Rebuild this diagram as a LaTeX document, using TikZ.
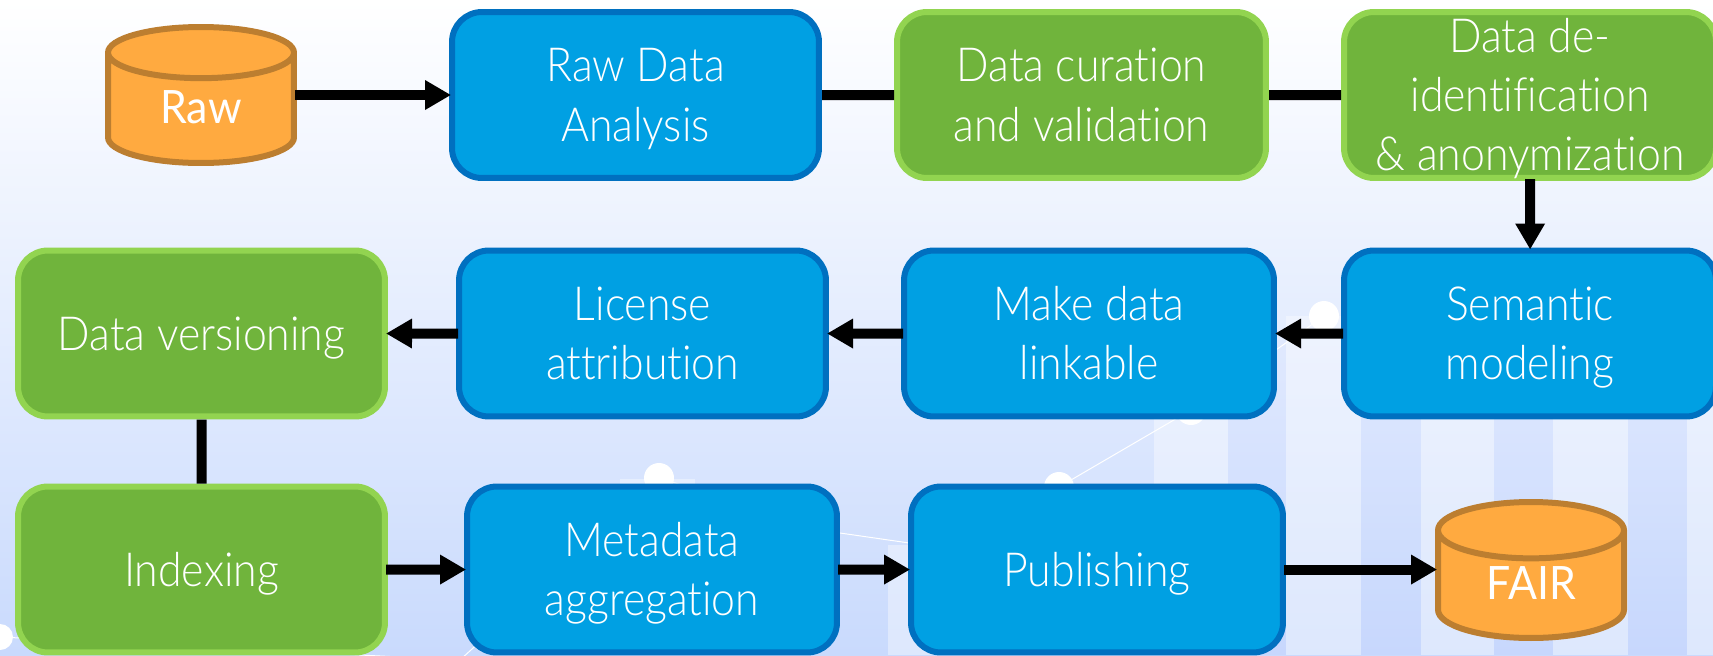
\documentclass[tikz,border=0pt]{standalone}
\usepackage{fontspec}
\setmainfont[FakeStretch=0.91,Ligatures=NoCommon]{Lato Light}
\newfontfamily\storefont[FakeStretch=0.93,Ligatures=NoCommon]{Lato}
\usetikzlibrary{arrows.meta,shapes.geometric}
\newcommand{\topgap}{\rule{0pt}{44pt}}
\newcommand{\storelabel}[1]{\smash{\raisebox{-14pt}{#1}}}
\definecolor{stepblue}{HTML}{00A0E3}
\definecolor{stepblueline}{HTML}{0070C0}
\definecolor{stepgreen}{HTML}{70B43C}
\definecolor{stepgreenline}{HTML}{92D450}
\definecolor{storeorange}{HTML}{FFAA40}
\definecolor{storeline}{HTML}{BC7E30}
\definecolor{bgtop}{HTML}{FFFFFF}
\definecolor{bgbottom}{HTML}{C9DAFD}
\tikzset{
  stepbox/.style={draw, line width=6pt, rounded corners=30pt, text=white, align=center,
    inner sep=0pt, minimum height=166pt, font=\fontsize{47}{59.5}\selectfont,
    execute at begin node={\topgap}, execute at end node={\rule[-11pt]{0pt}{11pt}}},
  bluebox/.style={stepbox, draw=stepblueline, fill=stepblue},
  greenbox/.style={stepbox, draw=stepgreenline, fill=stepgreen},
  store/.style={shape=cylinder, shape border rotate=90, anchor=shape center, draw=storeline,
    line width=6pt, aspect=0.63, cylinder uses custom fill, cylinder body fill=storeorange,
    cylinder end fill=storeorange, text=white, inner sep=0pt, minimum width=186pt,
    minimum height=136pt, font=\storefont\fontsize{46}{59}\selectfont},
  flow/.style={line width=10pt, shorten <=-2pt, shorten >=-2pt, -{Triangle[length=26pt,width=28pt]}},
  plainflow/.style={line width=10pt},
  lightbar/.style={white, opacity=0.38},
  darkbar/.style={blue!60, opacity=0.02},
  chartline/.style={white, line width=1pt},
  chartdot/.style={white}
}
\begin{document}
\begin{tikzpicture}[scale=0.3515]
  \useasboundingbox (0,0) rectangle (171.3,-65.5);
  \shade [top color=bgtop, bottom color=bgbottom] (0,0) rectangle (171.3,-65.5);
  % chart behind the boxes
  \fill [lightbar] (62,-47.9) rectangle (69.5,-65.5);
  \fill [lightbar] (88.8,-54.5) rectangle (96,-65.5);
  \fill [lightbar] (115.4,-38) rectangle (122.8,-65.5);
  \fill [lightbar] (128.6,-31.6) rectangle (136.1,-65.5);
  \fill [lightbar] (142.1,-38) rectangle (149.4,-65.5);
  \fill [lightbar] (155.3,-38) rectangle (162.8,-65.5);
  \fill [lightbar] (168.7,-38) rectangle (171.3,-65.5);
  \fill [darkbar] (122.8,-34) rectangle (128.6,-65.5);
  \fill [darkbar] (136.1,-38) rectangle (142.1,-65.5);
  \fill [darkbar] (149.4,-38) rectangle (155.3,-65.5);
  \fill [darkbar] (162.8,-38) rectangle (168.7,-65.5);
  \draw [chartline] (0,-63.7) -- (46,-66) -- (65.9,-47.8) -- (84,-53.3) -- (93,-54.6) -- (105.9,-48.7) -- (119.1,-41) -- (132.4,-31.6);
  \fill [chartdot] (0,-63.7) circle (1.3);
  \fill [chartdot] (65.9,-47.8) circle (1.5);
  \fill [chartdot] (105.9,-48.7) circle (1.5);
  \fill [chartdot] (119.1,-41) circle (1.5);
  \fill [chartdot] (132.4,-31.6) circle (1.5);
  % nodes
  \node [store] (raw) at (20.1,-9.5) {\storelabel{Raw}};
  \node [bluebox, minimum width=367pt] (analysis) at (63.55,-9.5) {\topgap Raw Data\\Analysis};
  \node [greenbox, minimum width=369pt] (curation) at (108.15,-9.5) {\topgap Data curation\\and validation};
  \node [greenbox, minimum width=372pt, inner ysep=-6pt] (deid) at (153,-9.5) {\topgap Data de-\\identification\\\& anonymization};
  \node [bluebox, minimum width=372pt] (semantic) at (153,-33.35) {\topgap Semantic\\modeling};
  \node [bluebox, minimum width=370pt] (linkable) at (108.9,-33.35) {\topgap Make data\\linkable};
  \node [bluebox, minimum width=367pt] (license) at (64.25,-33.35) {\topgap License\\attribution};
  \node [greenbox, minimum width=367pt] (versioning) at (20.15,-33.35) {Data versioning};
  \node [greenbox, minimum width=367pt] (indexing) at (20.15,-56.95) {Indexing};
  \node [bluebox, minimum width=370pt] (metadata) at (65.2,-56.95) {\topgap Metadata\\aggregation};
  \node [bluebox, minimum width=372pt] (publishing) at (109.7,-56.95) {Publishing};
  \node [store] (fair) at (153.1,-57) {\storelabel{FAIR}};
  % connectors
  \draw [flow] (raw.east |- analysis.west) -- (analysis.west);
  \draw [plainflow] (analysis) -- (curation);
  \draw [plainflow] (curation) -- (deid);
  \draw [flow] (deid) -- (semantic);
  \draw [flow] (semantic) -- (linkable);
  \draw [flow] (linkable) -- (license);
  \draw [flow] (license) -- (versioning);
  \draw [plainflow] (versioning) -- (indexing);
  \draw [flow] (indexing) -- (metadata);
  \draw [flow] (metadata) -- (publishing);
  \draw [flow] (publishing.east) -- (fair.west |- publishing.east);
\end{tikzpicture}
\end{document}
